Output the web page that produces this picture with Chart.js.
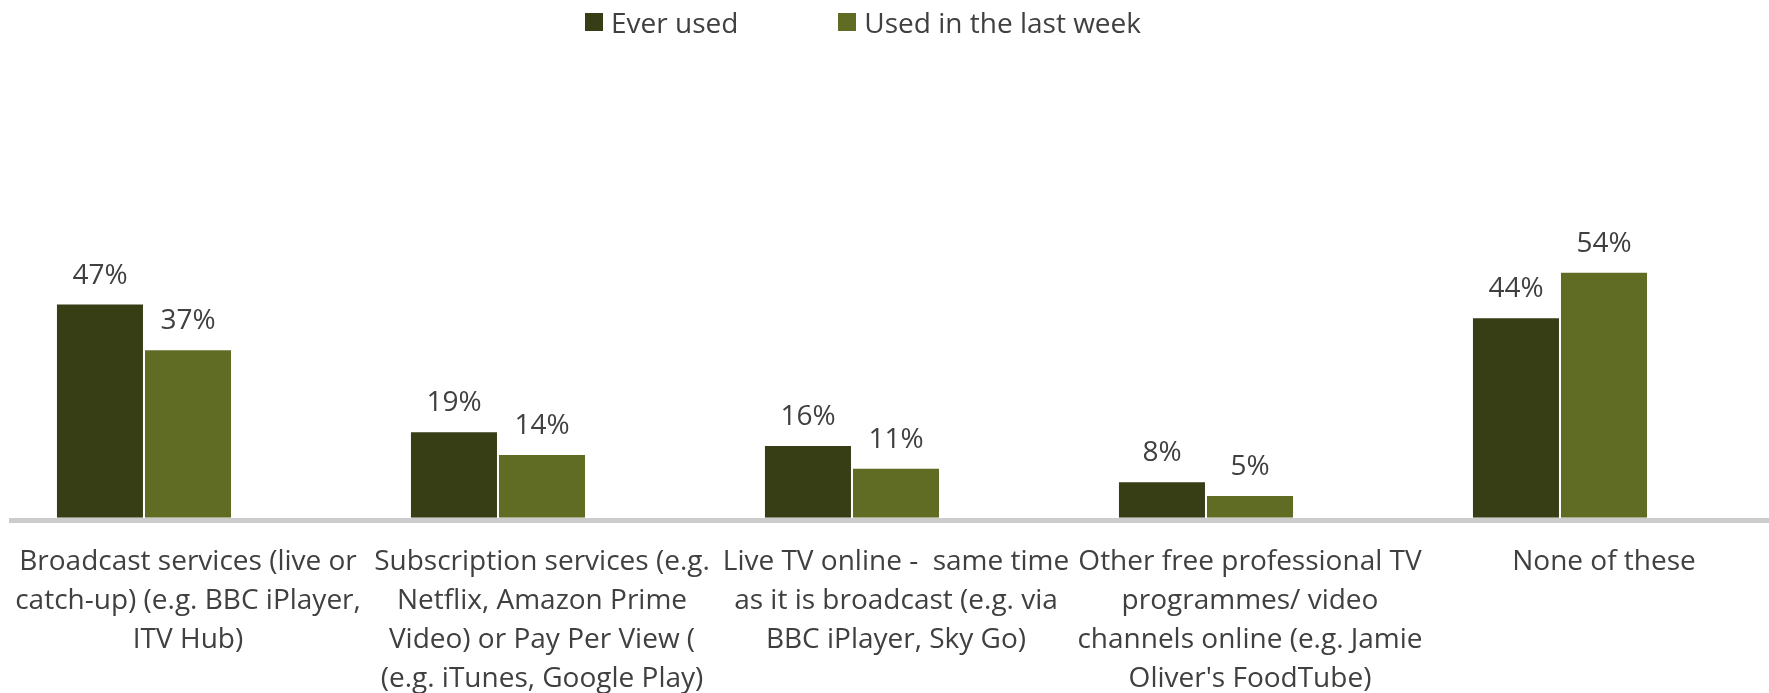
<!DOCTYPE html>
<html>
<head>
<meta charset="utf-8">
<title>Online TV services used</title>
<script src="https://cdn.jsdelivr.net/npm/chart.js@4.4.1/dist/chart.umd.min.js"></script>
<style>
    html, body {
        margin: 0;
        padding: 0;
        background: #ffffff;
        overflow: hidden;
    }
    #wrap {
        position: relative;
        width: 1800px;
        height: 712px;
    }
    #legend {
        position: absolute;
        left: 585px;
        top: 3px;
        display: flex;
        gap: 100px;
        font-family: "Open Sans", sans-serif;
        font-size: 28px;
        line-height: 38px;
        color: #404040;
        z-index: 2;
    }
    #legend .item {
        display: flex;
        align-items: center;
        gap: 8px;
    }
    #legend .box {
        width: 18px;
        height: 18px;
    }
</style>
</head>
<body>
<div id="wrap">
    <div id="legend"></div>
    <canvas id="usageChart"></canvas>
</div>
<script>
// Categories (split into the lines shown under each group)
const categories = [
    ['Broadcast services (live or', 'catch-up) (e.g. BBC iPlayer,', 'ITV Hub)'],
    ['Subscription services (e.g.', 'Netflix, Amazon Prime', 'Video) or Pay Per View (', '(e.g. iTunes, Google Play)'],
    ['Live TV online -  same time', 'as it is broadcast (e.g. via', 'BBC iPlayer, Sky Go)'],
    ['Other free professional TV', 'programmes/ video', 'channels online (e.g. Jamie', "Oliver's FoodTube)"],
    ['None of these']
];

const seriesNames = ['Ever used', 'Used in the last week'];
const everUsed = [47, 19, 16, 8, 44];
const usedLastWeek = [37, 14, 11, 5, 54];

const seriesColors = ['#373d15', '#606b24'];
const textColor = '#404040';
const fontFamily = '"Open Sans", sans-serif';

// Percentage labels above each bar
const valueLabels = {
    id: 'valueLabels',
    afterDatasetsDraw(chart) {
        const ctx = chart.ctx;
        ctx.save();
        ctx.font = '28px ' + fontFamily;
        ctx.fillStyle = textColor;
        ctx.textAlign = 'center';
        ctx.textBaseline = 'alphabetic';
        chart.data.datasets.forEach((ds, i) => {
            const meta = chart.getDatasetMeta(i);
            meta.data.forEach((bar, j) => {
                const v = ds.data[j];
                if (v == null) return;
                ctx.fillText(v + '%', bar.x, bar.y - 20);
            });
        });
        ctx.restore();
    }
};

const ctx = document.getElementById('usageChart').getContext('2d');
const chart = new Chart(ctx, {
    type: 'bar',
    data: {
        labels: categories,
        datasets: [
            { label: seriesNames[0], data: everUsed, backgroundColor: seriesColors[0] },
            { label: seriesNames[1], data: usedLastWeek, backgroundColor: seriesColors[1] },
            // empty third slot: keeps each pair left of its category centre
            { label: '', data: [], backgroundColor: 'rgba(0,0,0,0)' }
        ]
    },
    options: {
        responsive: true,
        maintainAspectRatio: false,
        animation: false,
        categoryPercentage: 0.746,
        barPercentage: 1.0,
        borderColor: 'rgba(255,255,255,0.35)',
        borderWidth: 1,
        layout: {
            padding: { left: 11, right: 19, top: 62, bottom: 0 }
        },
        plugins: {
            legend: { display: false },
            tooltip: { enabled: false }
        },
        scales: {
            x: {
                grid: { display: false },
                border: { display: true, color: '#cccccc', width: 5 },
                ticks: {
                    color: textColor,
                    font: { family: fontFamily, size: 28, lineHeight: 1.39 },
                    padding: 14,
                    maxRotation: 0,
                    autoSkip: false
                }
            },
            y: {
                display: false,
                min: -0.55,
                max: 100
            }
        }
    },
    plugins: [valueLabels]
});

// Legend built from the two real series
const legendEl = document.getElementById('legend');
chart.data.datasets.slice(0, seriesNames.length).forEach(ds => {
    const item = document.createElement('div');
    item.className = 'item';
    const box = document.createElement('span');
    box.className = 'box';
    box.style.background = ds.backgroundColor;
    const label = document.createElement('span');
    label.textContent = ds.label;
    item.appendChild(box);
    item.appendChild(label);
    legendEl.appendChild(item);
});
</script>
</body>
</html>
